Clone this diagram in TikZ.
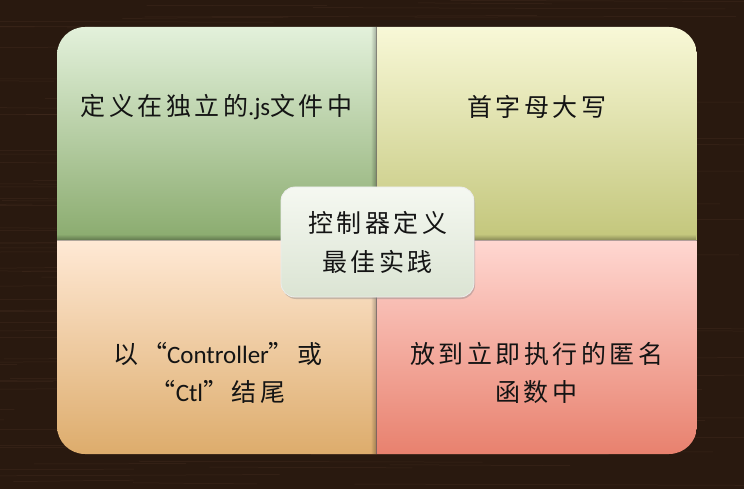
\documentclass[tikz,border=0pt]{standalone}
\usepackage{fontspec}
\setmainfont{Carlito}
\newfontfamily\zhfont[LetterSpace=14]{Noto Sans CJK SC}
\newfontfamily\latfont{Carlito}
\usetikzlibrary{shadows,fadings}

\definecolor{wood}{HTML}{29190F}
\definecolor{woodgrain}{HTML}{5E4030}
\definecolor{tlTop}{HTML}{E3F1DB}
\definecolor{tlBot}{HTML}{8AAB6E}
\definecolor{trTop}{HTML}{F8F8D7}
\definecolor{trBot}{HTML}{C3C67B}
\definecolor{blTop}{HTML}{FFE9D5}
\definecolor{blBot}{HTML}{DDAC6C}
\definecolor{brTop}{HTML}{FFD7D1}
\definecolor{brBot}{HTML}{E8816E}
\definecolor{coreTop}{HTML}{F5F8F1}
\definecolor{coreBot}{HTML}{DBE4D3}
\definecolor{inktext}{HTML}{141414}

\tikzstyle{quad} = [rectangle, inner sep=0pt, minimum width=320, minimum height=213]
\tikzstyle{quadtext} = [text=inktext, align=center, font={\zhfont\fontsize{25}{38}\selectfont}]
\tikzstyle{corebox} = [rectangle, rounded corners=14, minimum width=193, minimum height=110, top color=coreTop, bottom color=coreBot, draw=white!85!gray, line width=0.8, text=inktext, align=center, font={\zhfont\fontsize{25}{39}\selectfont}, drop shadow={opacity=0.4, shadow xshift=1pt, shadow yshift=-2pt}]
\tikzstyle{grain} = [woodgrain, line width=0.5, opacity=0.3]
\tikzstyle{edgeshade} = [black, opacity=0.3]

\begin{document}
\begin{tikzpicture}[x=1pt, y=-1pt]
   \useasboundingbox (0,0) rectangle (744,489);
   % background
   \begin{scope}
      \clip (0,0) rectangle (744,489);
      \fill[wood] (0,0) rectangle (744,489);
      \pgfmathsetseed{11}
      \foreach \k in {1,...,170}{
         \pgfmathsetmacro{\yy}{rnd*489}
         \pgfmathsetmacro{\xa}{rnd*744-200}
         \draw[grain] (\xa,\yy) -- ++(120+rnd*300, rnd*3-1.5);
      }
   \end{scope}

   % quadrants
   \begin{scope}
      \clip[rounded corners=28] (57,27) rectangle (697,454);
      \node[quad, top color=tlTop, bottom color=tlBot] (qtl) at (216.5,133.5) {};
      \node[quad, top color=trTop, bottom color=trBot] (qtr) at (536.5,133.5) {};
      \node[quad, top color=blTop, bottom color=blBot, minimum height=214] (qbl) at (216.5,347) {};
      \node[quad, top color=brTop, bottom color=brBot, minimum height=214] (qbr) at (536.5,347) {};
      % edge shadows
      \fill[edgeshade, path fading=west] ([xshift=-6pt]qtl.north east) rectangle (qtl.south east);
      \fill[edgeshade, path fading=west] ([xshift=-6pt]qbl.north east) rectangle (qbl.south east);
      \fill[edgeshade, path fading=north] ([yshift=6pt]qtl.south west) rectangle (qtr.south east);
      \draw[black!60, opacity=0.6, line width=1] (qtl.north east) -- (qbl.south east);
      \draw[black!60, opacity=0.5, line width=0.8] (qtl.south west) -- (qtr.south east);
   \end{scope}

   % texts
   \node[quadtext] (ttl) at (216.5,107) {定义在独立的{\latfont .js}文件中};
   \node[quadtext] (ttr) at (536.5,107) {首字母大写};
   \node[quadtext] (tbl) at (218,373) {以“{\latfont Controller}”或\\“{\latfont Ctl}”结尾};
   \node[quadtext] (tbr) at (536.5,373) {放到立即执行的匿名\\函数中};

   % centre
   \node[corebox] (core) at (377.5,242) {控制器定义\\最佳实践};
\end{tikzpicture}
\end{document}
